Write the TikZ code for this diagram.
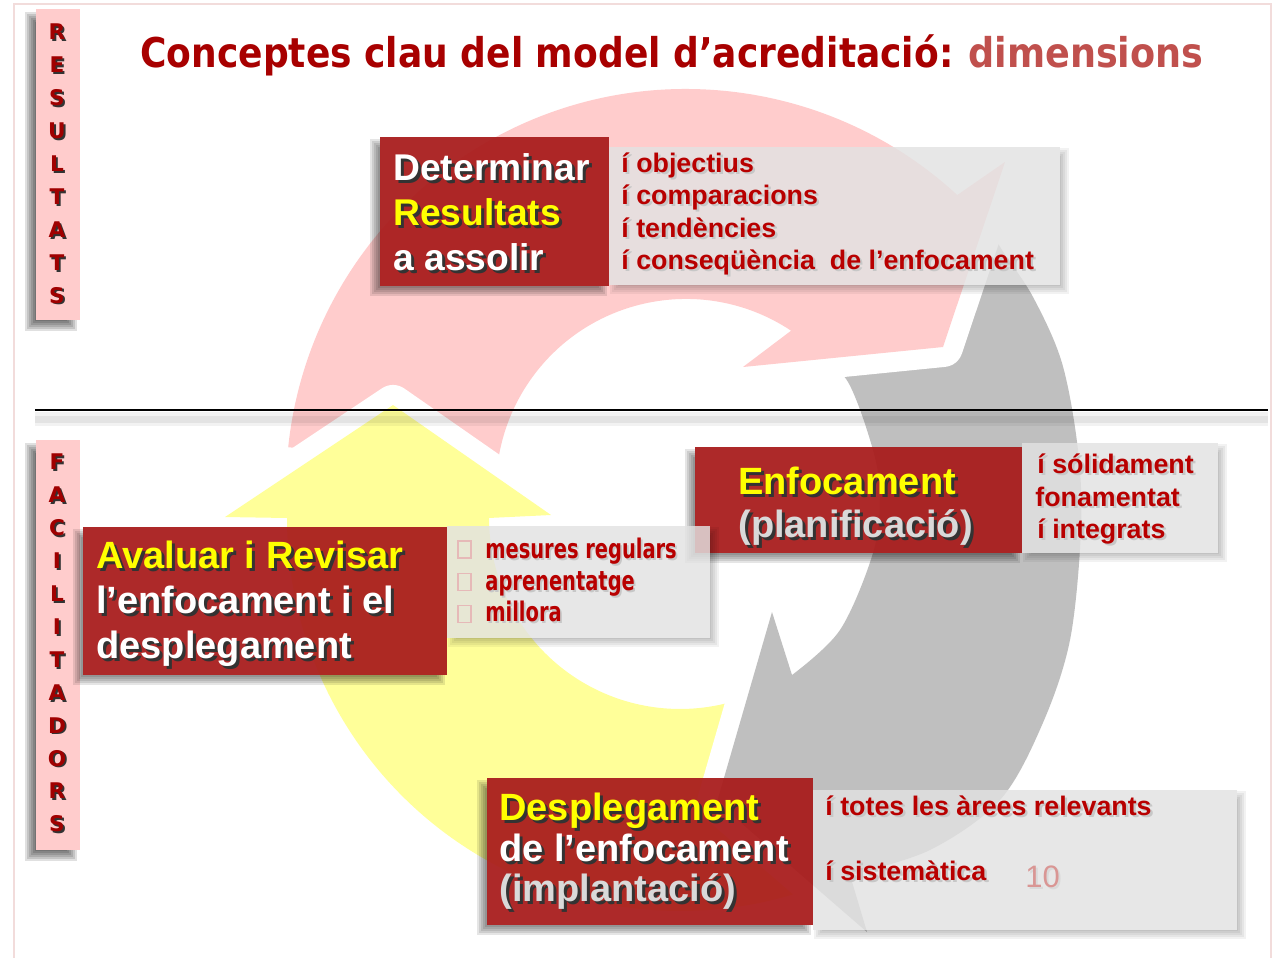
\documentclass[tikz,border=0pt]{standalone}
\usepackage{fontspec}
\setmainfont{Liberation Sans}
\newfontfamily\dvb{DejaVu Sans}
\usepackage{graphicx}
\usetikzlibrary{fit}
\definecolor{arrred}{HTML}{FFCCCC}
\definecolor{arrgray}{HTML}{BFBFBF}
\definecolor{arryel}{HTML}{FFFF99}
\definecolor{boxred}{HTML}{A81C1C}
\definecolor{boxgray}{HTML}{E2E2E2}
\definecolor{txtred}{HTML}{B80000}
\definecolor{ttlred}{HTML}{A80000}
\definecolor{ttlred2}{HTML}{C0504D}
\definecolor{barpink}{HTML}{FFCCCC}
\definecolor{lettred}{HTML}{A00000}
\definecolor{framepink}{HTML}{F2DCDB}
\definecolor{ltgray}{HTML}{D9D9D9}
\definecolor{numpink}{HTML}{D99694}
\definecolor{chkpink}{HTML}{E6B9B8}
\definecolor{ylw}{HTML}{FFFF00}
\newcommand\shd[3][1.2pt]{\rlap{\kern#1\raisebox{-#1}{\textcolor{#2}{#3}}}#3}
% soft shadow outside a box: x1 y1 x2 y2 dx dy opacity-per-step
\newcommand\sshadow[7]{%
 \begin{scope}[even odd rule]
 \clip (-10,-10) rectangle (1300,1000) (#1,#2) rectangle (#3,#4);
 \foreach \k in {0,...,5}
   \fill[black, opacity=#7] ({#1+#5+6-2*\k},{#2+#6+6-2*\k}) rectangle ({#3+#5-6+2*\k},{#4+#6-6+2*\k});
 \end{scope}}
\begin{document}
\begin{tikzpicture}[x=0.5pt,y=-0.5pt,
 redbox/.style={fill=boxred, fill opacity=0.94, inner sep=0pt, outer sep=0pt},
 graybox/.style={fill=boxgray, fill opacity=0.82, inner sep=0pt, outer sep=0pt},
 pinkbar/.style={fill=barpink, inner sep=0pt, outer sep=0pt},
 arrowfill/.style={preaction={draw=white, line width=20pt, line join=round}},
 bigw/.style={anchor=base west, inner sep=0pt, text=white, font=\bfseries\fontsize{19pt}{22pt}\selectfont},
 item/.style={anchor=base west, inner sep=0pt, text=txtred, font=\bfseries\fontsize{13.4pt}{16pt}\selectfont},
 itemdv/.style={anchor=base west, inner sep=0pt, text=txtred, font=\dvb\bfseries\fontsize{13.5pt}{16pt}\selectfont},
 vlet/.style={inner sep=0pt, text=lettred, font=\dvb\bfseries\fontsize{10.8pt}{12pt}\selectfont},
 chk/.style={draw=chkpink, line width=0.6pt, inner sep=0pt, minimum width=6.5pt, minimum height=8.5pt},
 ttl/.style={anchor=base west, inner sep=0pt, font=\dvb\bfseries\fontsize{20.5pt}{24pt}\selectfont}
]
\useasboundingbox (0,0) rectangle (1281,958);
\fill[white] (0,0) rectangle (1281,958);

% ---- cycle arrows ----
\fill[arryel, arrowfill] (551,515) -- (393,405) -- (225,517) -- (287,518)
  arc[start angle=180, end angle=66.7, radius=393] -- (755.6,693.4)
  arc[start angle=66.7, end angle=180, radius=191] -- cycle;
\fill[arrgray, arrowfill] plot[smooth, tension=0.55] coordinates {(975,205) (1002,250) (1033,297) (1062,363) (1078,450) (1081,530) (1070,640) (1042,725) (1000,800) (930,850) (850,875)}
  -- (867,932) -- (717,802) -- (772,612) -- (792,675)
  -- plot[smooth, tension=0.55] coordinates {(792,675) (840,630) (873,553) (880,497) (873,450) (848,382) (815,350)} -- cycle;
\fill[arrred, arrowfill] (288.2,447.2) arc[start angle=186, end angle=312.7, radius=400]
  -- (1005,162) -- (943,347) -- (743,367) -- (791.1,330.7)
  arc[start angle=303.6, end angle=186, radius=190] -- cycle;
\begin{scope}
\clip (0,0) rectangle (1281,500);
\fill[arryel, arrowfill] (551,515) -- (393,405) -- (225,517) -- (287,518)
  arc[start angle=180, end angle=66.7, radius=393] -- (755.6,693.4)
  arc[start angle=66.7, end angle=180, radius=191] -- cycle;
\end{scope}

% ---- frame ----
\draw[framepink, line width=1pt] (14,4) rectangle (1271,1000);

% ---- side bars ----
\sshadow{36}{9}{80}{320}{-7}{7}{0.12}
\sshadow{36}{440}{80}{850}{-7}{7}{0.12}
\node[pinkbar, fit={(36,9) (80,320)}] (resbar) {};
\node[pinkbar, fit={(36,440) (80,850)}] (facbar) {};
\foreach \l [count=\i from 0] in {R,E,S,U,L,T,A,T,S}
  \node[vlet] (res\i) at (57,{33+32.9*\i}) {\shd[0.9pt]{black!80}{\l}};
\foreach \l [count=\i from 0] in {F,A,C,I,L,I,T,A,D,O,R,S}
  \node[vlet] (fac\i) at (57,{463+32.9*\i}) {\shd[0.9pt]{black!80}{\l}};

% ---- separator ----
\coordinate (r1) at (35,410);
\coordinate (r2) at (1268,410);
\draw[black, opacity=0.05, line width=7pt] ([yshift=-4.5pt]r1) -- ([yshift=-4.5pt]r2);
\draw[black, opacity=0.06, line width=3.5pt] ([yshift=-4.5pt]r1) -- ([yshift=-4.5pt]r2);
\draw[black, line width=1.4pt] (r1) -- (r2);

% ---- title ----
\node[ttl, text=ttlred] (title1) at (140,67) {\resizebox{406.5pt}{\height}{Conceptes clau del model d’acreditació:}};
\node[ttl, text=ttlred2] (title2) at (968,67) {\resizebox{117.5pt}{\height}{dimensions}};

% ---- boxes ----
\sshadow{609}{147}{1060}{285}{5}{5}{0.05}
\node[graybox, fit={(609,147) (1060,285)}] (g1) {};
\sshadow{380}{137}{609}{286}{-6}{6}{0.1}
\node[redbox, fit={(380,137) (609,286)}] (b1) {};
\sshadow{695}{447}{1022}{553}{-6}{6}{0.1}
\node[redbox, fit={(695,447) (1022,553)}] (b2) {};
\sshadow{1022}{443}{1218}{553}{5}{5}{0.05}
\node[graybox, fit={(1022,443) (1218,553)}] (g2) {};
\sshadow{83}{527}{447}{675}{-6}{6}{0.1}
\node[redbox, fit={(83,527) (447,675)}] (b3) {};
\sshadow{447}{526}{710}{638}{5}{5}{0.05}
\node[graybox, fit={(447,526) (710,638)}] (g3) {};
\sshadow{487}{778}{813}{925}{-6}{6}{0.1}
\node[redbox, fit={(487,778) (813,925)}] (b4) {};
\sshadow{813}{790}{1237}{930}{5}{5}{0.05}
\node[graybox, fit={(813,790) (1237,930)}] (g4) {};

% ---- box 1 texts ----
\node[bigw, font=\bfseries\fontsize{18.6pt}{22pt}\selectfont] (d1) at (393,180) {\shd[1.5pt]{black!80}{Determinar}};
\node[bigw, text=ylw, font=\bfseries\fontsize{18.6pt}{22pt}\selectfont] (d2) at (393,225) {\shd[1.5pt]{black!80}{Resultats}};
\node[bigw, font=\bfseries\fontsize{18.6pt}{22pt}\selectfont] (d3) at (393,270) {\shd[1.5pt]{black!80}{a assolir}};
\node[item] (o1) at (621,172) {\shd{black!22}{í objectius}};
\node[item] (o2) at (621,204) {\shd{black!22}{í comparacions}};
\node[item] (o3) at (621,237) {\shd{black!22}{í tendències}};
\node[item] (o4) at (621,269) {\shd{black!22}{í conseqüència\ \ de l’enfocament}};

% ---- box 2 texts ----
\node[bigw, text=ylw] (e1) at (738,494) {\shd[1.5pt]{black!80}{Enfocament}};
\node[bigw, text=ltgray] (e2) at (738,537) {\shd[1.5pt]{black!80}{(planificació)}};
\node[item] (s1) at (1037,473) {\shd{black!22}{í sólidament}};
\node[item] (s2) at (1035,506) {\shd{black!22}{fonamentat}};
\node[item] (s3) at (1037,538) {\shd{black!22}{í integrats}};

% ---- box 3 texts ----
\node[bigw, text=ylw] (a1) at (96,568) {\shd[1.5pt]{black!80}{Avaluar i Revisar}};
\node[bigw] (a2) at (96,613) {\shd[1.5pt]{black!80}{l’enfocament i el}};
\node[bigw] (a3) at (96,658) {\shd[1.5pt]{black!80}{desplegament}};
\node[chk] (c1) at (464.5,549.5) {};
\node[chk] (c2) at (464.5,582) {};
\node[chk] (c3) at (464.5,614) {};
\node[itemdv] (m1) at (485,558) {\scalebox{0.72}[1]{\shd{black!22}{mesures regulars}}};
\node[itemdv] (m2) at (485,590) {\scalebox{0.72}[1]{\shd{black!22}{aprenentatge}}};
\node[itemdv] (m3) at (485,621) {\scalebox{0.72}[1]{\shd{black!22}{millora}}};

% ---- box 4 texts ----
\node[bigw, text=ylw] (p1) at (499,820) {\shd[1.5pt]{black!80}{Desplegament}};
\node[bigw] (p2) at (499,861) {\shd[1.5pt]{black!80}{de l’enfocament}};
\node[bigw, text=ltgray] (p3) at (499,901) {\shd[1.5pt]{black!80}{(implantació)}};
\node[item] (t1) at (825,815) {\shd{black!22}{í totes les àrees relevants}};
\node[item] (t2) at (825,880) {\shd{black!22}{í sistemàtica}};
\node[anchor=base west, inner sep=0pt, text=numpink, font=\fontsize{15.5pt}{18pt}\selectfont] (num) at (1025,887) {\shd[1pt]{black!15}{10}};
\end{tikzpicture}
\end{document}
